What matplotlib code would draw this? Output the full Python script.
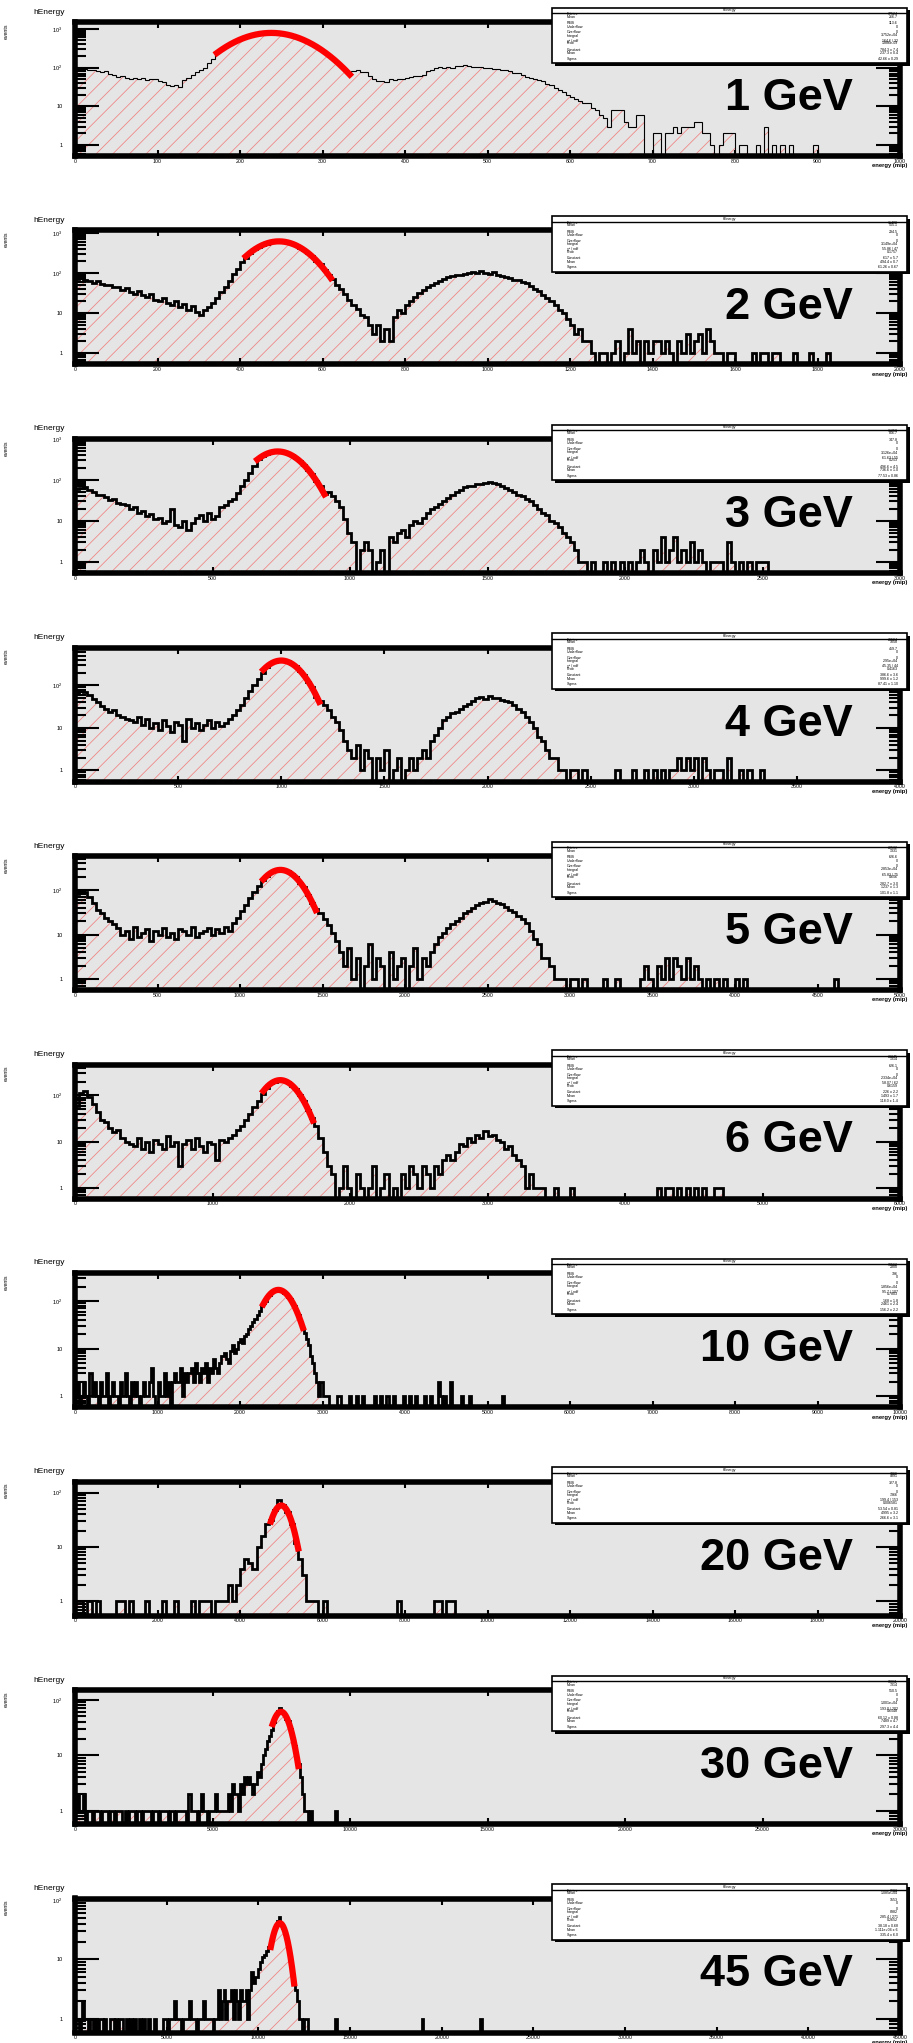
import numpy as np
import matplotlib
matplotlib.use('Agg')
import matplotlib.pyplot as plt
from matplotlib.patches import Rectangle
from matplotlib.lines import Line2D
from matplotlib.ticker import MultipleLocator, LogLocator, FuncFormatter, NullFormatter

plt.rcParams['font.family'] = ['Liberation Sans', 'DejaVu Sans']
plt.rcParams['hatch.linewidth'] = 0.55

# beam energies and axis settings per pad
energies = ['1 GeV', '2 GeV', '3 GeV', '4 GeV', '5 GeV', '6 GeV', '10 GeV', '20 GeV', '30 GeV', '45 GeV']
x_max = [1000, 2000, 3000, 4000, 5000, 6000, 10000, 20000, 30000, 45000]
x_tick = [100, 200, 500, 500, 500, 1000, 1000, 2000, 5000, 5000]
y_lims = [(0.52, 1500), (0.53, 1150), (0.54, 1000), (0.55, 780), (0.57, 580),
          (0.58, 470), (0.59, 390), (0.55, 160), (0.58, 150), (0.58, 107)]
bin_width = [5, 10, 15, 20, 25, 30, 25, 100, 75, 100]

# histogram contents (events per bin)
counts_1gev = [92, 95, 90, 88, 84, 80, 76, 82, 70, 66, 58, 60,
               55, 52, 54, 50, 53, 49, 52, 50, 46, 42, 35, 33, 36, 32,
               48, 55, 66, 77, 88, 100, 130, 170,
               236, 292, 330, 396, 438, 508, 548, 615, 650, 705, 728, 770, 772, 790, 776, 770, 735,
               712, 660, 625, 560, 518, 450, 405, 342, 302, 246, 212, 166, 142, 108, 90, 70,
               80, 84, 78, 76, 60, 52, 44, 46, 43, 50, 48, 52, 50, 54, 58, 62, 60, 64, 80, 86, 98,
               102, 96, 104, 100,
               108, 112, 114, 110, 106, 104, 106, 98, 95, 90, 92, 88, 84, 80, 74, 72, 64, 58, 55, 50,
               47, 44, 38, 35, 30, 26, 24, 20, 17, 15, 14, 12, 12, 9, 8, 6, 5, 3, 8, 8, 8, 4, 3, 3,
               6, 6, 0, 0,
               2, 2, 0, 2, 2, 3, 2, 3, 3, 3, 4, 4, 2, 2, 1, 0, 1, 2, 2, 2, 0, 1, 1, 0, 0, 1, 0, 3,
               0, 1, 0, 1, 0, 1, 0, 0, 0, 0, 0, 1]
counts_2gev = [70, 74, 68, 62, 58, 64, 55, 50, 52, 46, 44, 38, 42, 34, 30, 36, 28, 25, 30, 22,
               20, 24, 18, 16, 20, 14, 17, 12, 15, 11, 9,
               12, 14, 18, 24, 34, 45, 62, 95, 130, 185, 240,
               318, 392, 440, 508, 545, 592, 604, 622, 602, 588, 540, 500, 432, 384, 312, 262, 202,
               164, 118, 92,
               70, 52, 40, 30, 22, 16, 13, 9, 8, 5, 3, 5, 2, 4, 2,
               8, 12, 10, 16, 20, 26, 32, 38, 44, 50, 56, 64, 70, 78, 84, 90, 88, 96, 100, 104, 98,
               110, 102,
               96, 104, 90, 86, 78, 74, 66, 68, 60, 56, 48, 40, 36, 28, 24, 20, 16, 12, 10, 7, 5, 3,
               4, 2, 2,
               1, 0, 1, 1, 0, 1, 2, 0, 1, 4, 1, 2, 0, 2, 1, 2, 2, 1, 2, 1, 0, 2, 1, 3, 1, 2, 3, 1, 4,
               2, 1, 1, 0, 1, 1, 0, 0, 0, 0, 1, 0, 1, 1, 0, 1, 1, 0, 0, 0, 1, 0, 0, 0, 1, 0, 0, 0, 1]
counts_3gev = [60, 64, 66, 58, 50, 44, 42, 38, 33, 35, 28, 26, 24, 20, 22, 16, 18, 13, 15, 11,
               12, 9, 10, 20, 8, 7, 10, 6, 9, 12, 14, 10, 16, 11, 13, 22,
               24, 30, 35, 48, 70, 100, 150, 220,
               325, 394, 430, 480, 488, 502, 474, 452, 396, 352, 284, 238, 176, 138, 92, 70, 46,
               50, 40, 30, 22, 11, 5, 3, 0, 2, 3, 2, 0, 1, 2, 0,
               4, 3, 5, 6, 4, 8, 10, 9, 12, 16, 20,
               22, 26, 30, 36, 44, 50, 56, 66, 72, 70, 80, 78, 84, 90, 86, 80, 72,
               64, 58, 50, 44, 40, 34, 30, 24, 20, 16, 14, 10, 9, 7, 5, 4, 3, 2,
               1, 1, 0, 1, 0, 0, 1, 0, 1, 0, 1, 0, 1, 0, 1, 2, 1, 0, 2, 1, 4, 1, 2, 4, 1, 2, 1, 3,
               1, 2, 1, 0, 1, 1, 1, 0, 3, 1, 0, 1, 0, 1, 0, 1, 1, 1]
counts_4gev = [66, 72, 70, 58, 48, 40, 32, 28, 24, 26, 20, 18, 16, 15,
               14, 18, 12, 16, 10, 13, 9, 15, 11, 8, 14, 12, 5, 16, 10, 13, 9, 12, 15, 10, 14, 11,
               13, 16,
               20, 26, 34, 50, 75, 105, 140, 195,
               270, 332, 356, 390, 376, 370, 318, 284, 218, 178, 120, 90, 54,
               42, 34, 26, 18, 14, 9, 5, 3,
               2, 4, 1, 3, 2, 0, 2, 1, 3, 0, 1, 2, 0, 1, 2, 1, 2,
               3, 2, 5, 7, 10, 15, 18, 22, 24, 28, 32, 36, 42, 50, 54, 48, 56, 52, 50, 46, 44, 40,
               34, 28, 24, 18, 14, 10, 6, 5, 3, 2, 2,
               1, 1, 0, 1, 1, 0, 1, 0, 0, 0, 0, 0, 0, 0, 1, 0, 0, 0, 1, 0, 0, 1, 0, 1, 0, 1, 0, 1,
               1, 2, 1, 2, 1, 2, 0, 2, 1, 0, 1, 1, 0, 2, 0, 0, 1, 0, 1, 0, 0, 1]
counts_5gev = [80, 88, 90, 70, 52, 36, 30, 24, 20, 17,
               14, 10, 12, 8, 15, 9, 11, 13, 7, 12, 10, 14, 9, 11, 8, 13, 12, 10, 15, 9, 11, 12, 14,
               10, 13, 11, 15, 12,
               18, 24, 34, 46, 66, 92, 125, 170,
               202, 250, 264, 288, 276, 266, 224, 196, 146, 116, 76, 50,
               38, 30, 22, 16, 11, 7,
               4, 2, 5, 1, 3, 0, 2, 6, 1, 3, 2, 0, 4, 1, 2, 3, 0, 2, 5, 1, 3, 2,
               4, 6, 9, 11, 14, 17, 20, 24, 30, 34, 40, 46, 52, 55, 62, 56, 52, 48, 42, 36, 32, 26,
               22, 18, 12, 8, 6,
               3, 3, 2, 1, 1, 1, 0, 1, 1, 0, 1, 0, 0, 0, 0,
               1, 0, 0, 1, 0, 0, 0, 0, 0, 1, 2, 1, 0, 2, 1, 3, 1, 3, 2, 1, 3, 1, 2, 1, 0, 1, 0, 1,
               0, 1, 0, 0, 1, 0, 1,
               0, 0, 0, 0, 0, 0, 0, 0, 0, 0, 0, 0, 0, 0, 0, 0, 0, 0, 0, 0, 0, 1]
counts_6gev = [60, 112, 128, 92, 64, 44, 30, 26, 20, 16, 18, 12, 10, 9,
               8, 12, 7, 10, 6, 11, 9, 7, 13, 8, 10, 3, 9, 11, 7, 12, 8, 6, 10, 9, 4, 11, 10, 12,
               14, 18, 22, 30, 40, 56, 75, 105,
               148, 186, 200, 220, 206, 198, 164, 140, 100, 76, 48, 32,
               22, 12, 6, 3,
               2, 0, 1, 3, 1, 0, 2, 1, 0, 1, 3, 0, 1, 2, 0, 1, 0, 2, 1, 3, 2, 1, 3, 2, 1, 3, 2, 4,
               5, 4, 6, 9, 8, 12, 10, 14, 12, 17, 13, 14, 11, 10, 7, 8, 5, 4, 3,
               1, 2, 1, 1, 1, 0, 0, 1, 0, 0, 0, 1,
               0, 0, 0, 0, 0, 0, 0, 0, 0, 0, 0, 0, 0, 0, 0, 0, 0, 0, 0, 0,
               1, 0, 1, 1, 0, 1, 0, 1, 0, 1, 0, 1, 0, 0, 1, 1]
counts_10gev = [1, 2, 0, 1, 2, 1, 0, 3, 1, 2, 1, 0, 2, 1, 1, 3, 0, 1, 2, 1,
                1, 0, 2, 1, 3, 1, 0, 2, 1, 2, 1, 0, 1, 2, 1, 1, 2, 4, 1, 0,
                2, 1, 1, 3, 1, 2, 0, 2,
                3, 2, 2, 4, 1, 3, 2, 3, 4, 2, 5, 3, 2, 4, 3, 5, 2, 4, 3, 6, 4, 3, 5, 7,
                8, 6, 5, 9, 12, 8, 10, 14, 16, 13, 18, 20, 26, 30, 36, 42, 50, 62,
                78, 92, 100, 128, 134, 158, 160, 174, 168, 178, 160, 150, 146, 120, 112, 88, 80,
                58, 50, 34, 26, 21,
                16, 12, 7, 5, 3, 2, 1, 2, 1, 1,
                1, 0, 0, 0, 0, 1, 1, 0, 0, 0, 0, 1, 0, 0, 1, 0, 0, 1, 0, 0,
                0, 0, 0, 1, 0, 0, 1, 0, 0, 1, 0, 0, 1, 0, 0, 0, 0, 1, 0, 0,
                1, 0, 0, 1, 0, 0, 0, 1, 0, 0, 1, 0, 0, 0, 2, 1, 0, 1, 0, 0,
                2, 0, 0, 0, 0, 1, 0, 0, 0, 1, 0, 0, 0, 0, 0, 0, 0, 0, 0, 0,
                0, 0, 0, 0, 0, 1]
counts_20gev = [1, 1, 0, 1, 0, 1, 0, 0, 0, 0, 1, 1, 0, 1, 0, 0, 0, 1, 0, 0, 0, 1, 0, 0, 1, 0,
                0, 0, 1, 0,
                1, 1, 1, 0, 1, 1, 1, 2, 1, 2, 4, 6,
                5, 4, 10, 16, 26,
                32, 48, 72, 60, 44, 26, 12,
                6, 3, 1, 1, 1,
                0, 1, 0, 0, 0, 0, 0, 0, 0, 0, 0, 0, 0, 0, 0, 0, 0, 0, 0, 1, 0, 0, 0, 0, 0, 0, 0, 0,
                1, 1, 0, 1, 1]
counts_30gev = [1, 2, 1, 1, 2, 0, 1, 1, 0, 1, 1, 1, 0, 1, 1, 1, 0, 1, 1, 0,
                1, 1, 1, 0, 1, 0, 1, 1, 1, 0, 1, 1, 0, 1, 1, 1, 1, 0, 1, 1,
                0, 1, 1, 1, 1, 0, 1, 1, 0, 1, 1, 1, 1, 1, 0, 2, 1, 1, 1, 0,
                1, 2, 1, 1, 0, 1, 1, 1, 2, 1, 1, 1, 1, 1,
                2, 1, 3, 2, 2, 1, 3, 2, 4, 3, 4, 3, 2, 3,
                5, 4, 7, 10, 13, 18, 22, 28,
                40, 54, 62, 71, 64, 56, 46, 42, 30, 20, 15, 9,
                7, 4, 2, 1, 1, 0,
                1, 0, 0, 0, 0, 0, 0, 0, 0, 0, 0, 0, 1, 0]
counts_45gev = [1, 1, 0, 1, 2, 1, 1, 0, 1, 1, 0, 1, 0, 1, 1, 0, 1, 0, 0, 1,
                1, 0, 1, 0, 1, 1, 0, 0, 1, 0, 1, 0, 1, 0, 0, 1, 0, 1, 0, 0,
                1, 0, 0, 1, 0, 0, 0, 0,
                1, 1, 0, 1, 1, 1, 2, 1, 1, 1, 0, 1, 1, 1, 2, 1, 1, 1, 0, 1,
                1, 1, 2, 1, 1, 1, 1, 0, 1, 1,
                3, 1, 2, 3, 1, 2, 2, 3, 1, 3, 2, 1, 3, 2, 2, 3, 1, 3,
                6, 4, 5, 5, 7, 9, 11, 12, 14, 16,
                16, 22, 30, 36, 44, 52, 40, 34, 28, 22, 15, 10, 6, 4,
                3, 2, 1, 1, 0, 1, 1, 0,
                0, 0, 0, 0, 0, 0, 0, 0, 0, 0, 0, 0, 0, 0, 1, 0, 0, 0, 0, 0,
                0, 0, 0, 0, 0, 0, 0, 0, 0, 0, 0, 0, 0, 0, 0, 0, 0, 0, 0, 0,
                0, 0, 0, 0, 0, 0, 0, 0, 0, 0, 0, 0, 0, 0, 0, 0, 0, 0, 0, 0,
                0, 1, 0, 0, 0, 0, 0, 0, 0, 0, 0, 0, 0, 0, 0, 0, 0, 0, 0, 0,
                0, 0, 0, 0, 0, 0, 0, 0, 0, 0, 0, 0, 0, 1]
hists = [counts_1gev, counts_2gev, counts_3gev, counts_4gev, counts_5gev,
         counts_6gev, counts_10gev, counts_20gev, counts_30gev, counts_45gev]

# gaussian fit results and fit ranges
fit_const = [784, 617, 497, 385, 283, 215, 172, 58, 61, 41]
fit_mean = [238, 494.4, 737, 1000, 1245, 1493, 2465, 5000, 7490, 11170]
fit_sigma = [42.7, 61.26, 77.5, 87, 105, 118, 155, 215, 297, 360]
fit_lo = [172, 414, 663, 913, 1141, 1370, 2282, 4750, 7190, 10680]
fit_hi = [333, 620, 907, 1184, 1459, 1730, 2762, 5410, 8120, 11950]

# statistics box contents
stat_names = ['Entries', 'Mean', 'RMS', 'Underflow', 'Overflow', 'Integral',
              'χ² / ndf', 'Prob', 'Constant', 'Mean', 'Sigma']
stat_values = [
    ['37524', '266.7', '113.6', '0', '0', '3.752e+04', '164.6 / 32', '1.886e-09', '784.3 ± 7.4', '237.3 ± 0.4', '42.66 ± 0.29'],
    ['31488', '555.1', '294.5', '0', '0', '3.149e+04', '55.86 / 47', '0.1757', '617 ± 5.7', '494.4 ± 0.7', '61.26 ± 0.67'],
    ['31258', '816.7', '347.8', '0', '0', '3.126e+04', '61.63 / 55', '0.253', '496.6 ± 4.5', '736.6 ± 1.0', '77.53 ± 0.86'],
    ['29504', '1058', '459.7', '0', '0', '2.95e+04', '45.35 / 44', '0.4163', '386.6 ± 3.6', '999.6 ± 1.2', '87.41 ± 1.10'],
    ['28532', '1331', '626.6', '0', '0', '2.853e+04', '65.83 / 75', '0.656', '282.7 ± 3.0', '1237 ± 1.3', '101.8 ± 1.1'],
    ['23345', '1314', '626.1', '0', '0', '2.334e+04', '58.07 / 62', '0.6159', '226 ± 2.2', '1493 ± 1.7', '118.0 ± 1.4'],
    ['18562', '2300', '396', '0', '0', '1.856e+04', '95.7 / 107', '0.7803', '168 ± 1.8', '2461 ± 2.4', '156.2 ± 2.2'],
    ['7366', '4891', '327.8', '0', '0', '7366', '199.4 / 153', '0.006581', '53.54 ± 0.81', '4995 ± 3.2', '266.6 ± 3.1'],
    ['10011', '7314', '550.5', '0', '0', '1.001e+04', '193.0 / 202', '0.6548', '60.12 ± 0.88', '7489 ± 4.7', '297.3 ± 4.4'],
    ['8982', '1.085e+04', '1553', '0', '0', '8982', '285.4 / 271', '0.2652', '38.18 ± 0.68', '1.111e+04 ± 6', '335.4 ± 6.0'],
]
stat_rows = [14.2, 16.5, 23.2, 26.5, 32.2, 35.5, 40.8, 43.2, 49.8, 53.2, 58.8]

W, H = 913, 2043
STEP = 208.5

fig = plt.figure(figsize=(W / 100, H / 100), dpi=100)


def fx(px):
    return px / W


def fy(py):
    return 1 - py / H


def ylab(v, pos):
    e = int(round(np.log10(v)))
    if e == 0:
        return '1'
    if e == 1:
        return '10'
    return r'$\mathregular{10^{%d}}$' % e


for k in range(10):
    off = STEP * k
    top = 22 + off
    bot = 156 + off
    ax = fig.add_axes([fx(75), fy(bot), 825 / W, (bot - top) / H])
    ax.set_facecolor('#e5e5e5')
    ax.set_yscale('log')
    ax.set_axisbelow(False)

    counts = np.array(hists[k], dtype=float)
    edges = np.arange(len(counts) + 1) * bin_width[k]
    shown = np.where(counts > 0, counts, 1e-3)
    ax.fill_between(edges, 1e-3, np.append(shown, shown[-1]), step='post',
                    facecolor='none', edgecolor='#f08080', hatch='//', linewidth=0, zorder=1)
    ax.stairs(shown, edges, baseline=1e-3, color='black',
              lw=0.8 if k == 0 else 2.0, zorder=2)

    xf = np.linspace(fit_lo[k], fit_hi[k], 300)
    yf = fit_const[k] * np.exp(-0.5 * ((xf - fit_mean[k]) / fit_sigma[k]) ** 2)
    ax.plot(xf, yf, color='red', lw=4.5, zorder=3)

    ax.set_xlim(0, x_max[k])
    ax.set_ylim(*y_lims[k])
    ax.xaxis.set_major_locator(MultipleLocator(x_tick[k]))
    ax.xaxis.set_major_formatter(FuncFormatter(lambda v, p: '%d' % round(v)))
    ax.yaxis.set_major_locator(LogLocator(base=10, numticks=10))
    ax.yaxis.set_minor_locator(LogLocator(base=10, subs=np.arange(2, 10), numticks=30))
    ax.yaxis.set_major_formatter(FuncFormatter(ylab))
    ax.yaxis.set_minor_formatter(NullFormatter())
    ax.tick_params(axis='x', which='major', direction='in', top=True, bottom=True,
                   length=4.5, width=1.5, labelsize=3.8, pad=2)
    ax.tick_params(axis='x', which='minor', bottom=False, top=False)
    ax.tick_params(axis='y', which='major', direction='in', left=True, right=True,
                   length=17, width=1.5, labelsize=4, pad=9)
    ax.tick_params(axis='y', which='minor', direction='in', left=True, right=True,
                   length=8, width=1.5)
    for s in ax.spines.values():
        s.set_linewidth(4)

    # labels around the pad
    fig.text(fx(33), fy(12 + off), 'hEnergy', fontsize=6, ha='left', va='center')
    fig.text(fx(6.5), fy(31 + off), 'events', fontsize=3.8, rotation=90, ha='center', va='center')
    fig.text(fx(907), fy(166 + off), 'energy (mip)', fontsize=4.2, weight='bold',
             ha='right', va='center')
    fig.text(fx(853), fy(110 + off), energies[k], fontsize=32.5, weight='bold',
             ha='right', va='baseline')

    # statistics box
    bx0, bx1 = 552, 907
    by0, by1 = 7.5 + off, 63 + off
    fig.add_artist(Rectangle((fx(bx0 + 2.5), fy(by1 + 2.5)), (bx1 - bx0) / W, (by1 - by0) / H,
                             transform=fig.transFigure, facecolor='black', edgecolor='none', zorder=5))
    fig.add_artist(Rectangle((fx(bx0), fy(by1)), (bx1 - bx0) / W, (by1 - by0) / H,
                             transform=fig.transFigure, facecolor='white', edgecolor='black',
                             linewidth=1.2, zorder=6))
    fig.add_artist(Line2D([fx(bx0), fx(bx1)], [fy(13 + off), fy(13 + off)],
                          transform=fig.transFigure, color='black', lw=1.0, zorder=7))
    fig.text(fx((bx0 + bx1) / 2), fy(10.2 + off), 'hEnergy', fontsize=2.6,
             ha='center', va='center', zorder=8)
    for name, val, ry in zip(stat_names, stat_values[k], stat_rows):
        fig.text(fx(567), fy(ry + off), name, fontsize=2.6, ha='left', va='center', zorder=8)
        fig.text(fx(898), fy(ry + off), val, fontsize=2.6, ha='right', va='center', zorder=8)

fig.savefig('out.png', dpi=100, facecolor='white')
